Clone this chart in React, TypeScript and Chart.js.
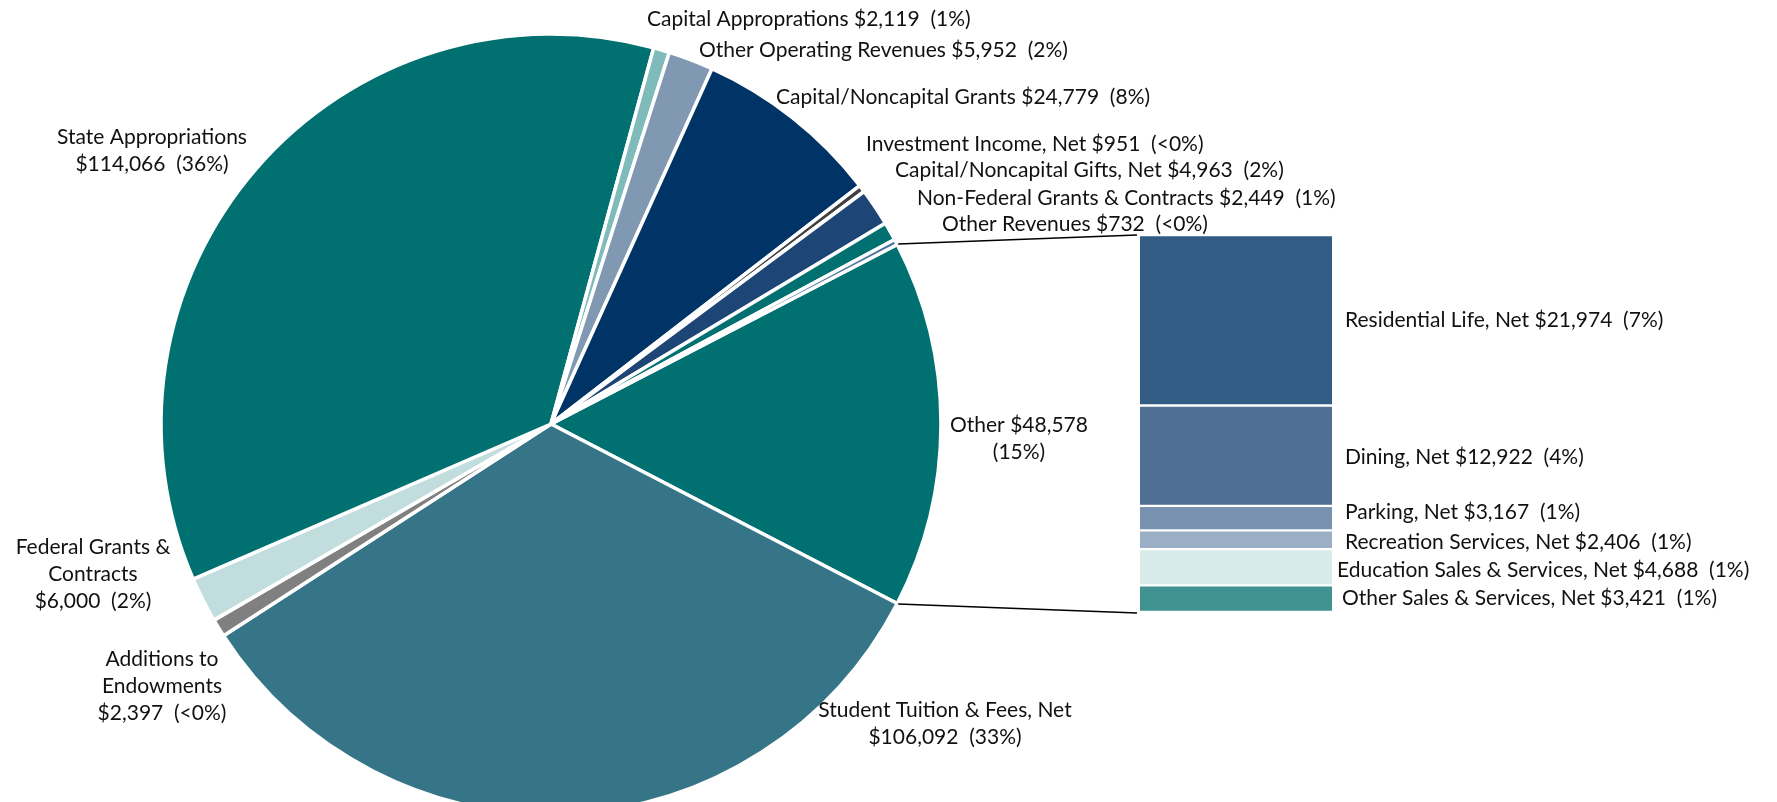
import React, { useEffect, useRef } from 'react';
import { Chart, registerables } from 'chart.js';

Chart.register(...registerables);

// ---------- Data ----------
// Pie slices, clockwise starting with the "Other" slice that is broken out into the bar
const pieCategories = [
  'Other',
  'Student Tuition & Fees, Net',
  'Additions to Endowments',
  'Federal Grants & Contracts',
  'State Appropriations',
  'Capital Approprations',
  'Other Operating Revenues',
  'Capital/Noncapital Grants',
  'Investment Income, Net',
  'Capital/Noncapital Gifts, Net',
  'Non-Federal Grants & Contracts',
  'Other Revenues',
];
const pieValues = [48578, 106092, 2397, 6000, 114066, 2119, 5952, 24779, 951, 4963, 2449, 732];
const piePctLabels = ['15%', '33%', '<0%', '2%', '36%', '1%', '2%', '8%', '<0%', '2%', '1%', '<0%'];

// Breakdown of "Other" (top to bottom)
const barCategories = [
  'Residential Life, Net',
  'Dining, Net',
  'Parking, Net',
  'Recreation Services, Net',
  'Education Sales & Services, Net',
  'Other Sales & Services, Net',
];
const barValues = [21974, 12922, 3167, 2406, 4688, 3421];
const barPctLabels = ['7%', '4%', '1%', '1%', '1%', '1%'];

// ---------- Styles ----------
const pieColors = [
  '#007170', '#367587', '#808080', '#c1dddd', '#007170', '#7fbbbb',
  '#8098b2', '#003366', '#404040', '#1d4575', '#007170', '#4a74a0',
];
const barColors = ['#335c84', '#4f6f94', '#7791ae', '#9aafc5', '#d9eaea', '#409391'];

const W = 1777;
const H = 840;
const FONT = '21px Lato, "Open Sans", sans-serif';
const TEXT = '#111111';

// label placement (x, y = centre of first line; breaks = word indices where a new line starts)
const pieLabelLayout = [
  { x: 1019, y: 425, align: 'center', breaks: [2] },
  { x: 945, y: 710, align: 'center', breaks: [5] },
  { x: 162, y: 659, align: 'center', breaks: [2, 3] },
  { x: 93, y: 547, align: 'center', breaks: [3, 4] },
  { x: 152, y: 137, align: 'center', breaks: [2] },
  { x: 647, y: 19, align: 'left', breaks: [] },
  { x: 699, y: 50, align: 'left', breaks: [] },
  { x: 776, y: 97, align: 'left', breaks: [] },
  { x: 866, y: 144, align: 'left', breaks: [] },
  { x: 895, y: 170, align: 'left', breaks: [] },
  { x: 917, y: 198, align: 'left', breaks: [] },
  { x: 942, y: 224, align: 'left', breaks: [] },
];
const barLabelLayout = [
  { x: 1345, y: 320 },
  { x: 1345, y: 457 },
  { x: 1345, y: 512 },
  { x: 1345, y: 542 },
  { x: 1337, y: 570 },
  { x: 1342, y: 598 },
];
const LINE_H = 27;

const fmt = (v: number) => '$' + v.toLocaleString('en-US');

function labelLines(name: string, value: number, pct: string, breaks: number[]) {
  const words = `${name} ${fmt(value)}`.split(' ');
  words.push(`\u00a0(${pct})`);
  const lines: string[] = [];
  let cur: string[] = [];
  words.forEach((w, i) => {
    if (breaks.includes(i) && cur.length) {
      lines.push(cur.join(' '));
      cur = [];
    }
    cur.push(w);
  });
  if (cur.length) lines.push(cur.join(' '));
  return lines.map((l) => l.replace(/^\u00a0/, ''));
}

export default function App() {
  const pieRef = useRef<HTMLCanvasElement>(null);
  const barRef = useRef<HTMLCanvasElement>(null);

  useEffect(() => {
    const total = pieValues.reduce((a, b) => a + b, 0);
    const otherDeg = (pieValues[0] / total) * 360;

    const pie = new Chart(pieRef.current!, {
      type: 'pie',
      data: {
        labels: pieCategories,
        datasets: [
          {
            data: pieValues,
            backgroundColor: pieColors,
            borderColor: '#ffffff',
            borderWidth: 3.5,
            hoverOffset: 0,
          },
        ],
      },
      options: {
        responsive: false,
        animation: false,
        rotation: 90 - otherDeg / 2,
        radius: 390,
        layout: { padding: { left: 161, right: W - 941, top: 34, bottom: H - 814 } },
        plugins: { legend: { display: false }, tooltip: { enabled: false } },
        events: [],
      } as any,
    });

    const stackOrder = barValues.map((_, i) => i).reverse(); // bottom first
    const barTotal = barValues.reduce((a, b) => a + b, 0);

    const overlayPlugin = {
      id: 'overlay',
      afterDraw(chart: any) {
        const ctx = chart.ctx as CanvasRenderingContext2D;
        ctx.save();
        // connector lines
        const arc: any = pie.getDatasetMeta(0).data[0];
        const topEl: any = chart.getDatasetMeta(barValues.length - 1).data[0];
        const botEl: any = chart.getDatasetMeta(0).data[0];
        const left = topEl.x - topEl.width / 2;
        const r = arc.outerRadius + 1;
        ctx.strokeStyle = '#000';
        ctx.lineWidth = 1.6;
        ctx.beginPath();
        ctx.moveTo(arc.x + r * Math.cos(arc.startAngle), arc.y + r * Math.sin(arc.startAngle));
        ctx.lineTo(left - 3, topEl.y);
        ctx.moveTo(arc.x + r * Math.cos(arc.endAngle), arc.y + r * Math.sin(arc.endAngle));
        ctx.lineTo(left - 3, botEl.base + 1);
        ctx.stroke();

        // labels
        ctx.font = FONT;
        ctx.fillStyle = TEXT;
        ctx.textBaseline = 'middle';
        pieCategories.forEach((name, i) => {
          const lay = pieLabelLayout[i];
          const lines = labelLines(name, pieValues[i], piePctLabels[i], lay.breaks);
          ctx.textAlign = lay.align as CanvasTextAlign;
          lines.forEach((ln, k) => ctx.fillText(ln, lay.x, lay.y + k * LINE_H));
        });
        ctx.textAlign = 'left';
        barCategories.forEach((name, i) => {
          const lay = barLabelLayout[i];
          const txt = `${name} ${fmt(barValues[i])}\u00a0 (${barPctLabels[i]})`;
          ctx.fillText(txt, lay.x, lay.y);
        });
        ctx.restore();
      },
    };

    const bar = new Chart(barRef.current!, {
      type: 'bar',
      data: {
        labels: ['Other'],
        datasets: stackOrder.map((i) => ({
          label: barCategories[i],
          data: [barValues[i]],
          backgroundColor: barColors[i],
          borderColor: '#ffffff',
          borderWidth: { top: 1.5, bottom: 1.5, left: 0, right: 0 },
          borderSkipped: false,
          barPercentage: 1,
          categoryPercentage: 1,
        })),
      },
      options: {
        responsive: false,
        animation: false,
        layout: { padding: { left: 1140, right: W - 1332, top: 235, bottom: H - 612 } },
        scales: {
          x: { stacked: true, display: false },
          y: { stacked: true, display: false, min: 0, max: barTotal },
        },
        plugins: { legend: { display: false }, tooltip: { enabled: false } },
        events: [],
      } as any,
      plugins: [overlayPlugin],
    });

    return () => {
      bar.destroy();
      pie.destroy();
    };
  }, []);

  return (
    <div
      style={{
        position: 'fixed',
        left: 0,
        top: 0,
        width: W,
        height: 802,
        overflow: 'hidden',
        background: '#fff',
      }}
    >
      <canvas ref={pieRef} width={W} height={H} style={{ position: 'absolute', left: 0, top: 0 }} />
      <canvas ref={barRef} width={W} height={H} style={{ position: 'absolute', left: 0, top: 0 }} />
    </div>
  );
}
